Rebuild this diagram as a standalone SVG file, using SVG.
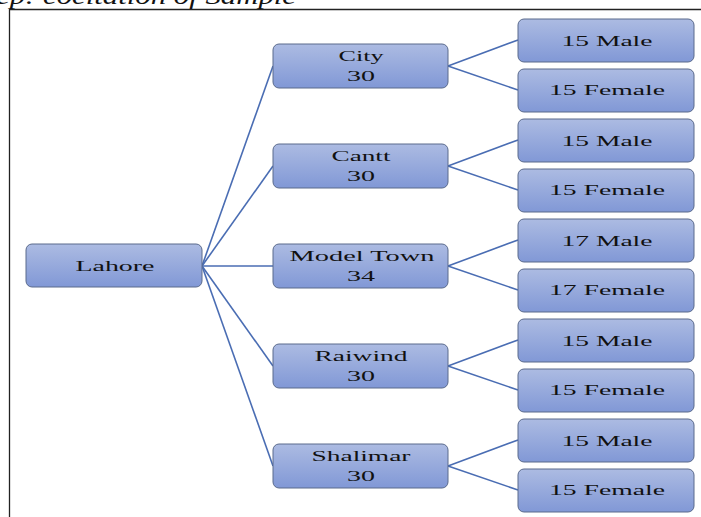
<svg xmlns="http://www.w3.org/2000/svg" width="701" height="517" viewBox="0 0 701 517">
<defs>
<linearGradient id="g" x1="0" y1="0" x2="0" y2="1">
<stop offset="0" stop-color="#acbbe2"/>
<stop offset="1" stop-color="#8198d6"/>
</linearGradient>
<style>
.n rect{fill:url(#g);stroke:#5a6a8c;stroke-width:1}
.n text{font-family:"Liberation Serif","DejaVu Serif",serif;font-size:15.5px;fill:#111;text-anchor:middle}
#edges line{stroke:#4a6db3;stroke-width:1.6}
.cap{font-family:"Liberation Serif","DejaVu Serif",serif;font-style:italic;font-size:24px;fill:#111}
</style>
</defs>
<rect width="701" height="517" fill="#fff"/>
<text class="cap" x="-4" y="4" textLength="300" lengthAdjust="spacingAndGlyphs">ep: cocitation of Sample</text>
<path d="M9.5 517V9.5H701" fill="none" stroke="#222" stroke-width="1.3"/>
<g id="edges">
<line x1="202" y1="266" x2="273" y2="66"/>
<line x1="202" y1="266" x2="273" y2="166"/>
<line x1="202" y1="266" x2="273" y2="266"/>
<line x1="202" y1="266" x2="273" y2="366"/>
<line x1="202" y1="266" x2="273" y2="466"/>
<line x1="448" y1="66" x2="518" y2="40"/>
<line x1="448" y1="66" x2="518" y2="90"/>
<line x1="448" y1="166" x2="518" y2="140"/>
<line x1="448" y1="166" x2="518" y2="190"/>
<line x1="448" y1="266" x2="518" y2="240"/>
<line x1="448" y1="266" x2="518" y2="290"/>
<line x1="448" y1="366" x2="518" y2="340"/>
<line x1="448" y1="366" x2="518" y2="390"/>
<line x1="448" y1="466" x2="518" y2="440"/>
<line x1="448" y1="466" x2="518" y2="490"/>
</g>
<g id="lahore" class="n"><rect x="26" y="244" width="176" height="43" rx="6"/><text x="115" y="271" textLength="79" lengthAdjust="spacingAndGlyphs">Lahore</text></g>
<g id="city" class="n"><rect x="273" y="44" width="175" height="44" rx="6"/><text x="361" y="61" textLength="45" lengthAdjust="spacingAndGlyphs">City</text><text x="361" y="81" textLength="28" lengthAdjust="spacingAndGlyphs">30</text></g>
<g id="cantt" class="n"><rect x="273" y="144" width="175" height="44" rx="6"/><text x="361" y="161" textLength="59" lengthAdjust="spacingAndGlyphs">Cantt</text><text x="361" y="181" textLength="28" lengthAdjust="spacingAndGlyphs">30</text></g>
<g id="modeltown" class="n"><rect x="273" y="244" width="175" height="44" rx="6"/><text x="362" y="261" textLength="145" lengthAdjust="spacingAndGlyphs">Model Town</text><text x="361" y="281" textLength="28" lengthAdjust="spacingAndGlyphs">34</text></g>
<g id="raiwind" class="n"><rect x="273" y="344" width="175" height="44" rx="6"/><text x="361" y="361" textLength="93" lengthAdjust="spacingAndGlyphs">Raiwind</text><text x="361" y="381" textLength="28" lengthAdjust="spacingAndGlyphs">30</text></g>
<g id="shalimar" class="n"><rect x="273" y="444" width="175" height="44" rx="6"/><text x="361" y="461" textLength="99" lengthAdjust="spacingAndGlyphs">Shalimar</text><text x="361" y="481" textLength="28" lengthAdjust="spacingAndGlyphs">30</text></g>
<g id="city-m" class="n"><rect x="518" y="19" width="176" height="43" rx="6"/><text x="607" y="46" textLength="91" lengthAdjust="spacingAndGlyphs">15 Male</text></g>
<g id="city-f" class="n"><rect x="518" y="69" width="176" height="43" rx="6"/><text x="607" y="95" textLength="116" lengthAdjust="spacingAndGlyphs">15 Female</text></g>
<g id="cantt-m" class="n"><rect x="518" y="119" width="176" height="43" rx="6"/><text x="607" y="146" textLength="91" lengthAdjust="spacingAndGlyphs">15 Male</text></g>
<g id="cantt-f" class="n"><rect x="518" y="169" width="176" height="43" rx="6"/><text x="607" y="195" textLength="116" lengthAdjust="spacingAndGlyphs">15 Female</text></g>
<g id="mt-m" class="n"><rect x="518" y="219" width="176" height="43" rx="6"/><text x="607" y="246" textLength="91" lengthAdjust="spacingAndGlyphs">17 Male</text></g>
<g id="mt-f" class="n"><rect x="518" y="269" width="176" height="43" rx="6"/><text x="607" y="295" textLength="116" lengthAdjust="spacingAndGlyphs">17 Female</text></g>
<g id="rw-m" class="n"><rect x="518" y="319" width="176" height="43" rx="6"/><text x="607" y="346" textLength="91" lengthAdjust="spacingAndGlyphs">15 Male</text></g>
<g id="rw-f" class="n"><rect x="518" y="369" width="176" height="43" rx="6"/><text x="607" y="395" textLength="116" lengthAdjust="spacingAndGlyphs">15 Female</text></g>
<g id="sh-m" class="n"><rect x="518" y="419" width="176" height="43" rx="6"/><text x="607" y="446" textLength="91" lengthAdjust="spacingAndGlyphs">15 Male</text></g>
<g id="sh-f" class="n"><rect x="518" y="469" width="176" height="43" rx="6"/><text x="607" y="495" textLength="116" lengthAdjust="spacingAndGlyphs">15 Female</text></g>
</svg>
